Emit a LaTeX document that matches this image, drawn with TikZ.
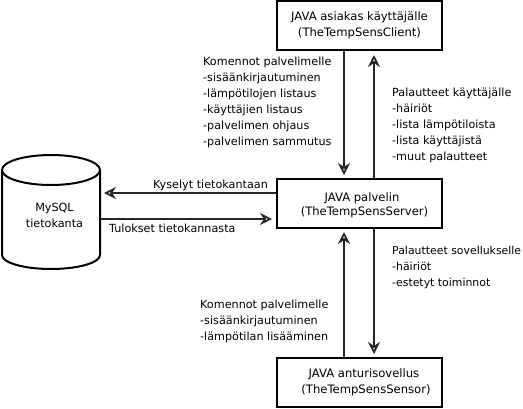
\documentclass[tikz,border=0pt]{standalone}
\usepackage{fontspec}
\setmainfont{DejaVu Sans}
\usetikzlibrary{arrows.meta}
\newcommand{\shiftdown}[2]{\raisebox{-#1}[0.75em][0.25em]{#2}}
\tikzset{
  x=1pt,y=-1pt,
  box/.style={draw=black,line width=2pt,fill=white,minimum width=165pt,minimum height=49pt,inner sep=0pt,align=center,font=\fontsize{11.6}{16.5}\selectfont},
  lbl/.style={anchor=north west,inner sep=0pt,align=left,font=\fontsize{11.2}{16}\selectfont},
  link/.style={line width=1.8pt,draw=black!85,-{Stealth[open,length=12pt,width=12pt,inset=4pt,line width=1.7pt]}},
  db/.style={line width=2pt,draw=black,fill=white}
}
\begin{document}
\begin{tikzpicture}
\useasboundingbox (0,0) rectangle (523,408);
\node[box] (client) at (359.5,25.5) {JAVA asiakas käyttäjälle\\(TheTempSensClient)};
\node[box] (server) at (359.5,203.5) {\shiftdown{3pt}{\hspace*{5pt}JAVA palvelin}\\\shiftdown{1pt}{\hspace*{10pt}(TheTempSensServer)}};
\node[box] (sensor) at (359.5,382.5) {\hspace*{9pt}JAVA anturisovellus\\\hspace*{13pt}(TheTempSensSensor)};
\coordinate (lx) at (344,0);
\coordinate (rx) at (374,0);
\coordinate (qy) at (0,193);
\coordinate (ry) at (0,219);
\draw[db] (2,170) -- (2,255) arc[start angle=180,end angle=0,x radius=49,y radius=14] -- (100,170);
\draw[db] (51,170) ellipse[x radius=49,y radius=15];
\coordinate (dbr) at (100,0);
\node[inner sep=0pt,align=center,font=\fontsize{11.2}{16}\selectfont] (dbl) at (54.5,215) {MySQL\\tietokanta};
\draw[link,shorten >=3pt] (client.south -| lx) -- (server.north -| lx);
\draw[link,shorten >=4pt] (server.north -| rx) -- (client.south -| rx);
\draw[link,shorten >=3pt] (sensor.north -| lx) -- (server.south -| lx);
\draw[link,shorten >=3pt] (server.south -| rx) -- (sensor.north -| rx);
\draw[link,shorten >=4pt] (server.west |- qy) -- (dbr |- qy);
\draw[link,shorten >=4pt] (dbr |- ry) -- (server.west |- ry);
\node[lbl] (t1) at (203,57) {Komennot palvelimelle\\-sisäänkirjautuminen\\-lämpötilojen listaus\\-käyttäjien listaus\\-palvelimen ohjaus\\-palvelimen sammutus};
\node[lbl] (t2) at (392,87.5) {Palautteet käyttäjälle\\-häiriöt\\-lista lämpötiloista\\-lista käyttäjistä\\-muut palautteet};
\node[lbl] (t3) at (153,180) {Kyselyt tietokantaan};
\node[lbl] (t4) at (109,224) {Tulokset tietokannasta};
\node[lbl,font=\fontsize{10.9}{16}\selectfont] (t5) at (392,246) {Palautteet sovellukselle\\-häiriöt\\-estetyt toiminnot};
\node[lbl] (t6) at (200,300) {Komennot palvelimelle\\-sisäänkirjautuminen\\-lämpötilan lisääminen};
\end{tikzpicture}
\end{document}
